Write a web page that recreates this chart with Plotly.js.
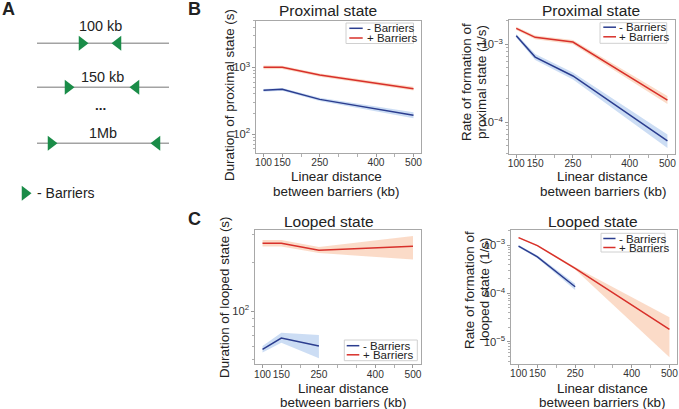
<!DOCTYPE html>
<html>
<head>
<meta charset="utf-8">
<script src="https://cdn.plot.ly/plotly-3.0.1.min.js"></script>
<style>html,body{margin:0;padding:0;background:#fff;}#chart{width:679px;height:409px;}</style>
</head>
<body>
<div id="chart"></div>
<script>
// ---------- DATA ----------
const distances = [100, 150, 250, 500];
const distancesMinusLooped = [100, 150, 250];
const xTickVals = [100, 150, 250, 400, 500];
const xTickText = ['100', '150', '250', '400', '500'];
const seriesNames = ['- Barriers', '+ Barriers'];

// B left: duration of proximal state (s)
const durProxMinus   = [452, 468, 331, 191];
const durProxMinusLo = [432, 447, 312, 172];
const durProxMinusHi = [473, 490, 351, 212];
const durProxPlus    = [1000, 1000, 767, 478];
const durProxPlusLo  = [940, 945, 725, 448];
const durProxPlusHi  = [1065, 1060, 812, 510];

// B right: rate of formation of proximal state (1/s)
const rateProxMinus   = [1.29e-3, 6.87e-4, 3.93e-4, 5.8e-5];
const rateProxMinusLo = [1.22e-3, 6.3e-4, 3.55e-4, 4.7e-5];
const rateProxMinusHi = [1.36e-3, 7.5e-4, 4.35e-4, 7.0e-5];
const rateProxPlus    = [1.60e-3, 1.23e-3, 1.07e-3, 1.93e-4];
const rateProxPlusLo  = [1.53e-3, 1.16e-3, 1.00e-3, 1.72e-4];
const rateProxPlusHi  = [1.68e-3, 1.30e-3, 1.14e-3, 2.17e-4];

// C left: duration of looped state (s)
const durLoopMinus   = [57.6, 67.8, 60.4];
const durLoopMinusLo = [55.0, 63.4, 50.6];
const durLoopMinusHi = [60.5, 73.1, 70.8];
const durLoopPlus    = [265, 265, 240, 254];
const durLoopPlusLo  = [253, 253, 230, 210];
const durLoopPlusHi  = [278, 278, 251, 294];

// C right: rate of formation of looped state (1/s)
const rateLoopMinus   = [9.5e-4, 5.7e-4, 1.37e-4];
const rateLoopMinusLo = [9.0e-4, 5.35e-4, 1.18e-4];
const rateLoopMinusHi = [1.0e-3, 6.1e-4, 1.58e-4];
const rateLoopPlus    = [1.42e-3, 9.7e-4, 3.3e-4, 1.8e-5];
const rateLoopPlusLo  = [1.38e-3, 9.4e-4, 3.1e-4, 4.8e-6];
const rateLoopPlusHi  = [1.46e-3, 1.0e-3, 3.5e-4, 3.2e-5];

// Panel A schematic
const schemLabels = ['100 kb', '150 kb', '1Mb'];
const schemLeftBarrier  = [82, 68, 51];
const schemRightBarrier = [118, 136, 157];

// ---------- STYLE / LAYOUT ----------
const W = 679, H = 409;
const FONT = 'Arial, "Liberation Sans", sans-serif';
const BLUE = '#2b3d8f', RED = '#d8302a';
const BLUE_BAND = 'rgba(120,165,225,0.38)', RED_BAND = 'rgba(245,160,110,0.38)';
const GREEN = '#1a8c48';
const TXT = '#222';

function dx(p){ return p / W; }
function dy(p){ return 1 - p / H; }

const traces = [];
function addSeries(xv, lo, hi, band, xa, ya){
  traces.push({x: xv, y: lo, xaxis: xa, yaxis: ya, mode: 'lines', line: {width: 0, color: band}, hoverinfo: 'skip', showlegend: false});
  traces.push({x: xv, y: hi, xaxis: xa, yaxis: ya, mode: 'lines', line: {width: 0, color: band}, fill: 'tonexty', fillcolor: band, hoverinfo: 'skip', showlegend: false});
}
function addLine(xv, mid, color, name, xa, ya){
  traces.push({x: xv, y: mid, xaxis: xa, yaxis: ya, mode: 'lines', line: {width: 1.5, color: color}, name: name, showlegend: false});
}

addSeries(distances, durProxMinusLo, durProxMinusHi, BLUE_BAND, 'x', 'y');
addSeries(distances, durProxPlusLo, durProxPlusHi, RED_BAND, 'x', 'y');
addLine(distances, durProxMinus, BLUE, seriesNames[0], 'x', 'y');
addLine(distances, durProxPlus, RED, seriesNames[1], 'x', 'y');

addSeries(distances, rateProxMinusLo, rateProxMinusHi, BLUE_BAND, 'x2', 'y2');
addSeries(distances, rateProxPlusLo, rateProxPlusHi, RED_BAND, 'x2', 'y2');
addLine(distances, rateProxMinus, BLUE, seriesNames[0], 'x2', 'y2');
addLine(distances, rateProxPlus, RED, seriesNames[1], 'x2', 'y2');

addSeries(distancesMinusLooped, durLoopMinusLo, durLoopMinusHi, BLUE_BAND, 'x3', 'y3');
addSeries(distances, durLoopPlusLo, durLoopPlusHi, RED_BAND, 'x3', 'y3');
addLine(distancesMinusLooped, durLoopMinus, BLUE, seriesNames[0], 'x3', 'y3');
addLine(distances, durLoopPlus, RED, seriesNames[1], 'x3', 'y3');

addSeries(distancesMinusLooped, rateLoopMinusLo, rateLoopMinusHi, BLUE_BAND, 'x4', 'y4');
addSeries(distances, rateLoopPlusLo, rateLoopPlusHi, RED_BAND, 'x4', 'y4');
addLine(distancesMinusLooped, rateLoopMinus, BLUE, seriesNames[0], 'x4', 'y4');
addLine(distances, rateLoopPlus, RED, seriesNames[1], 'x4', 'y4');

// Panel A schematic traces (pixel-like hidden axes)
const rowY = [43.3, 87.3, 143.3];
for (let i = 0; i < schemLabels.length; i++){
  traces.push({x: [37, 169], y: [rowY[i], rowY[i]], xaxis: 'x5', yaxis: 'y5', mode: 'lines', line: {color: '#a3a3a3', width: 1.6}, hoverinfo: 'skip', showlegend: false});
}
traces.push({x: schemLeftBarrier, y: rowY, xaxis: 'x5', yaxis: 'y5', mode: 'markers', marker: {symbol: 'triangle-right', size: 13, color: GREEN}, hoverinfo: 'skip', showlegend: false});
traces.push({x: schemRightBarrier, y: rowY, xaxis: 'x5', yaxis: 'y5', mode: 'markers', marker: {symbol: 'triangle-left', size: 13, color: GREEN}, hoverinfo: 'skip', showlegend: false});
traces.push({x: [25], y: [193.3], xaxis: 'x5', yaxis: 'y5', mode: 'markers', marker: {symbol: 'triangle-right', size: 13, color: GREEN}, hoverinfo: 'skip', showlegend: false});

function xAxis(px0, px1, anchor){
  return {domain: [dx(px0), dx(px1)], anchor: anchor, range: [80, 520], tickmode: 'array', tickvals: xTickVals, ticktext: xTickText,
    tickangle: 0, ticks: 'outside', ticklen: 3, tickcolor: '#9a9a9a', tickfont: {size: 10.2, color: '#333', family: FONT},
    ticklabelstandoff: -3, ticklabeloverflow: 'allow',
    minor: {ticks: 'outside', ticklen: 3, tickcolor: '#b0b0b0', tick0: 0, dtick: 50, showgrid: false},
    showline: true, mirror: true, linecolor: '#a8a8a8', linewidth: 1, showgrid: false, zeroline: false, fixedrange: true};
}
function yAxis(py0, py1, anchor, range){
  return {domain: [dy(py1), dy(py0)], anchor: anchor, type: 'log', range: range, dtick: 1, exponentformat: 'power',
    ticks: 'outside', ticklen: 3, tickcolor: '#9a9a9a', tickfont: {size: 9, color: '#333', family: FONT},
    minor: {ticks: 'outside', ticklen: 2, tickcolor: '#b0b0b0', dtick: 'D1', showgrid: false},
    showline: true, mirror: true, linecolor: '#a8a8a8', linewidth: 1, showgrid: false, zeroline: false, fixedrange: true};
}

const annotations = [];
function ann(text, x, y, o){
  annotations.push(Object.assign({text: text, x: dx(x), y: dy(y), xref: 'paper', yref: 'paper', showarrow: false,
    xanchor: 'center', yanchor: 'middle', font: {family: FONT, size: 12, color: TXT}}, o || {}));
}
const F = (s) => ({family: FONT, size: s, color: TXT});
// Panel letters
ann('<b>A</b>', 8, 9.5, {font: F(18)});
ann('<b>B</b>', 194, 9.5, {font: F(18)});
ann('<b>C</b>', 194, 219, {font: F(18)});
// Titles
ann('Proximal state', 328, 10.5, {font: F(15.5)});
ann('Proximal state', 590.5, 10.5, {font: F(15.5)});
ann('Looped state', 329, 221, {font: F(15.5)});
ann('Looped state', 592.5, 221, {font: F(15.5)});
// Y titles
const AT = 13.4;
ann('Duration of proximal state (s)', 229, 95, {textangle: -90, font: F(AT)});
ann('Rate of formation of', 466, 82, {textangle: -90, font: F(AT)});
ann('proximal state (1/s)', 481, 82, {textangle: -90, font: F(AT)});
ann('Duration of looped state (s)', 224, 297, {textangle: -90, font: F(AT)});
ann('Rate of formation of', 469, 290, {textangle: -90, font: F(AT)});
ann('looped state (1/s)', 484, 290, {textangle: -90, font: F(AT)});
// X titles
const xTitle1 = 'Linear distance', xTitle2 = 'between barriers (kb)';
ann(xTitle1, 336, 176, {font: F(AT)});
ann(xTitle2, 336.5, 191, {font: F(AT)});
ann(xTitle1, 602, 176, {font: F(AT)});
ann(xTitle2, 603.5, 191, {font: F(AT)});
ann(xTitle1, 343.3, 388, {font: F(AT)});
ann(xTitle2, 343.3, 402.5, {font: F(AT)});
ann(xTitle1, 602, 388.5, {font: F(AT)});
ann(xTitle2, 602.5, 402.5, {font: F(AT)});

// Legends (drawn manually)
const shapes = [];
function legendBox(x0, y0, x1, y1, ly1, ly2, lx0, lx1, tx){
  shapes.push({type: 'rect', xref: 'paper', yref: 'paper', x0: dx(x0), x1: dx(x1), y0: dy(y1), y1: dy(y0),
    line: {color: '#d0d0d0', width: 1}, fillcolor: 'rgba(255,255,255,0.85)', layer: 'above'});
  shapes.push({type: 'line', xref: 'paper', yref: 'paper', x0: dx(lx0), x1: dx(lx1), y0: dy(ly1), y1: dy(ly1), line: {color: BLUE, width: 1.5}, layer: 'above'});
  shapes.push({type: 'line', xref: 'paper', yref: 'paper', x0: dx(lx0), x1: dx(lx1), y0: dy(ly2), y1: dy(ly2), line: {color: RED, width: 1.5}, layer: 'above'});
  ann(seriesNames[0], tx, ly1, {xanchor: 'left', font: F(11.5)});
  ann(seriesNames[1], tx, ly2, {xanchor: 'left', font: F(11.5)});
}
legendBox(346, 23, 413.5, 43.5, 28.3, 38.0, 349.3, 362.7, 364.5);
legendBox(600, 22.7, 666.7, 43.3, 27.2, 36.8, 603.3, 616, 617);
legendBox(344.3, 340, 417.3, 360.7, 345.7, 354.8, 346.7, 359.3, 360.5);
legendBox(601, 233.3, 665, 252, 238.5, 247.5, 603.3, 615.5, 617);

// Panel A text
const rowLabelPos = [[100, 26.5], [103, 77.3], [103, 132.7]];
for (let i = 0; i < schemLabels.length; i++){
  ann(schemLabels[i], rowLabelPos[i][0], rowLabelPos[i][1], {font: F(14.4)});
}
ann('<b>...</b>', 100, 105, {font: F(13.5)});
ann('- Barriers', 35, 193.5, {xanchor: 'left', font: F(14)});

const layout = {
  width: W, height: H, margin: {l: 0, r: 0, t: 0, b: 0}, paper_bgcolor: '#fff', plot_bgcolor: '#fff',
  font: {family: FONT, color: TXT}, showlegend: false,
  xaxis: xAxis(256, 421, 'y'),
  yaxis: yAxis(20.7, 152.7, 'x', [1.72, 3.70]),
  xaxis2: xAxis(508.7, 675, 'y2'),
  yaxis2: yAxis(20, 154, 'x2', [-4.406, -2.688]),
  xaxis3: xAxis(255, 420.5, 'y3'),
  yaxis3: yAxis(230, 364.3, 'x3', [1.667, 2.506]),
  xaxis4: xAxis(511, 677, 'y4'),
  yaxis4: yAxis(230, 364, 'x4', [-5.46, -2.69]),
  xaxis5: {domain: [0, dx(190)], anchor: 'y5', range: [0, 190], visible: false, fixedrange: true},
  yaxis5: {domain: [0, 1], anchor: 'x5', range: [409, 0], visible: false, fixedrange: true},
  annotations: annotations, shapes: shapes
};

Plotly.newPlot('chart', traces, layout, {displayModeBar: false, staticPlot: true});
</script>
</body>
</html>
